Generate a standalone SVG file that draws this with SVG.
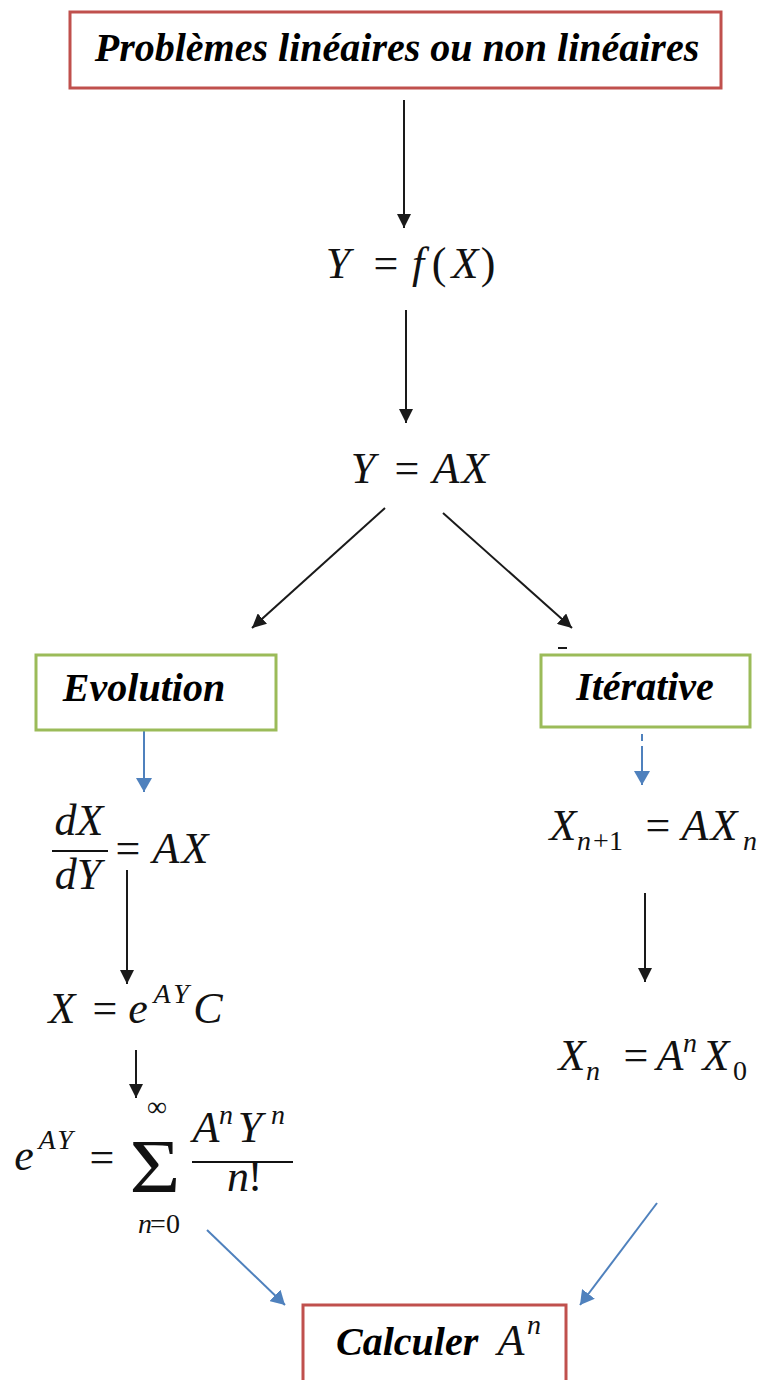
<svg xmlns="http://www.w3.org/2000/svg" width="764" height="1380" viewBox="0 0 764 1380">
<style>
.bg{fill:#ffffff}
.redbox{fill:#ffffff;stroke:#c0504d;stroke-width:3}
.greenbox{fill:#ffffff;stroke:#9bbb59;stroke-width:3}
.lbl{font-family:"Liberation Serif","Times New Roman",serif;font-weight:bold;font-style:italic;font-size:40px;fill:#000}
.m{font-family:"Liberation Serif","Times New Roman",serif;font-style:italic;font-size:44px;fill:#111;text-anchor:middle}
.r{font-family:"Liberation Serif","Times New Roman",serif;font-size:44px;fill:#111;text-anchor:middle}
.ms{font-family:"Liberation Serif","Times New Roman",serif;font-style:italic;font-size:28px;fill:#111;text-anchor:middle}
.rs{font-family:"Liberation Serif","Times New Roman",serif;font-size:28px;fill:#111;text-anchor:middle}
.blk{stroke:#1a1a1a;stroke-width:2;fill:none}
.blu{stroke:#4f81bd;stroke-width:2;fill:none}
.frac{stroke:#111;stroke-width:2}
</style>
<defs>
<marker id="ab" viewBox="0 0 14 14" refX="14" refY="7" markerWidth="14" markerHeight="14" markerUnits="userSpaceOnUse" orient="auto">
<path d="M0,0 L14,7 L0,14 z" fill="#1a1a1a"/>
</marker>
<marker id="au" viewBox="0 0 14 16" refX="14" refY="8" markerWidth="14" markerHeight="16" markerUnits="userSpaceOnUse" orient="auto">
<path d="M0,0 L14,8 L0,16 z" fill="#4f81bd"/>
</marker>
</defs>
<rect class="bg" x="0" y="0" width="764" height="1380"/>

<g id="connectors">
<line class="blk" x1="404" y1="100" x2="404" y2="228" marker-end="url(#ab)"/>
<line class="blk" x1="406" y1="310" x2="406" y2="423" marker-end="url(#ab)"/>
<line class="blk" x1="385" y1="508" x2="252" y2="628" marker-end="url(#ab)"/>
<line class="blk" x1="443" y1="513" x2="572" y2="628" marker-end="url(#ab)"/>
<line class="blk" x1="558" y1="648" x2="567" y2="648" stroke-width="1.5"/>
<line class="blu" x1="144" y1="729" x2="144" y2="792" marker-end="url(#au)"/>
<line class="blu" x1="642" y1="734" x2="642" y2="741"/>
<line class="blu" x1="642" y1="746" x2="642" y2="785" marker-end="url(#au)"/>
<line class="blk" x1="127" y1="870" x2="127" y2="984" marker-end="url(#ab)"/>
<line class="blk" x1="136" y1="1050" x2="136" y2="1098" marker-end="url(#ab)"/>
<line class="blk" x1="645" y1="893" x2="645" y2="982" marker-end="url(#ab)"/>
<line class="blu" x1="207" y1="1230" x2="285" y2="1305" marker-end="url(#au)"/>
<line class="blu" x1="657" y1="1203" x2="580" y2="1305" marker-end="url(#au)"/>
</g>

<g id="n-problemes">
<rect class="redbox" x="70" y="12" width="651" height="76"/>
<text class="lbl" x="397" y="61" text-anchor="middle">Problèmes linéaires ou non linéaires</text>
</g>

<g id="n-yfx">
<text class="m" x="338" y="278">Y</text>
<text class="r" x="386" y="278">=</text>
<text class="m" x="418" y="278">f</text>
<text class="r" x="439" y="278">(</text>
<text class="m" x="465" y="278">X</text>
<text class="r" x="488" y="278">)</text>
</g>

<g id="n-yax">
<text class="m" x="363" y="483">Y</text>
<text class="r" x="407" y="483">=</text>
<text class="m" x="446" y="483">A</text>
<text class="m" x="475" y="483">X</text>
</g>

<g id="n-evolution">
<rect class="greenbox" x="36" y="655" width="240" height="75"/>
<text class="lbl" x="144" y="701" text-anchor="middle">Evolution</text>
</g>

<g id="n-iterative">
<rect class="greenbox" x="541" y="655" width="209" height="72"/>
<text class="lbl" x="645" y="700" text-anchor="middle">Itérative</text>
</g>

<g id="n-dxdy">
<text class="m" x="79" y="835">dX</text>
<line class="frac" x1="52" y1="851" x2="108" y2="851"/>
<text class="m" x="78" y="889">dY</text>
<text class="r" x="128" y="863">=</text>
<text class="m" x="166" y="863">A</text>
<text class="m" x="195" y="863">X</text>
</g>

<g id="n-xeayc">
<text class="m" x="62" y="1023">X</text>
<text class="r" x="105" y="1023">=</text>
<text class="m" x="138" y="1023">e</text>
<text class="ms" x="162" y="1003">A</text>
<text class="ms" x="181" y="1003">Y</text>
<text class="m" x="208" y="1023">C</text>
</g>

<g id="n-series">
<text class="m" x="24" y="1170">e</text>
<text class="ms" x="47" y="1149">A</text>
<text class="ms" x="65" y="1149">Y</text>
<text class="r" x="102" y="1172">=</text>
<text class="r" transform="translate(155,1192) scale(1.15,1)" x="0" y="0" style="font-size:76px">Σ</text>
<text class="rs" x="157" y="1116">∞</text>
<text class="ms" x="145" y="1233">n</text>
<text class="rs" x="165" y="1233">=0</text>
<text class="m" x="206" y="1142">A</text>
<text class="ms" x="226" y="1124">n</text>
<text class="m" x="250" y="1142">Y</text>
<text class="ms" x="278" y="1124">n</text>
<line class="frac" x1="192" y1="1162" x2="293" y2="1162"/>
<text class="m" x="238" y="1191">n</text>
<text class="r" x="255" y="1191">!</text>
</g>

<g id="n-recur">
<text class="m" x="563" y="840">X</text>
<text class="ms" x="584" y="850">n</text>
<text class="rs" x="608" y="850">+1</text>
<text class="r" x="658" y="840">=</text>
<text class="m" x="695" y="840">A</text>
<text class="m" x="724" y="840">X</text>
<text class="ms" x="750" y="850">n</text>
</g>

<g id="n-xn">
<text class="m" x="572" y="1070">X</text>
<text class="ms" x="593" y="1080">n</text>
<text class="r" x="636" y="1070">=</text>
<text class="m" x="670" y="1070">A</text>
<text class="ms" x="690" y="1052">n</text>
<text class="m" x="716" y="1070">X</text>
<text class="rs" x="740" y="1080">0</text>
</g>

<g id="n-calculer">
<rect class="redbox" x="303" y="1305" width="263" height="100"/>
<text class="lbl" x="336" y="1355">Calculer</text>
<text class="m" x="511" y="1355">A</text>
<text class="ms" x="534" y="1334">n</text>
</g>
</svg>
